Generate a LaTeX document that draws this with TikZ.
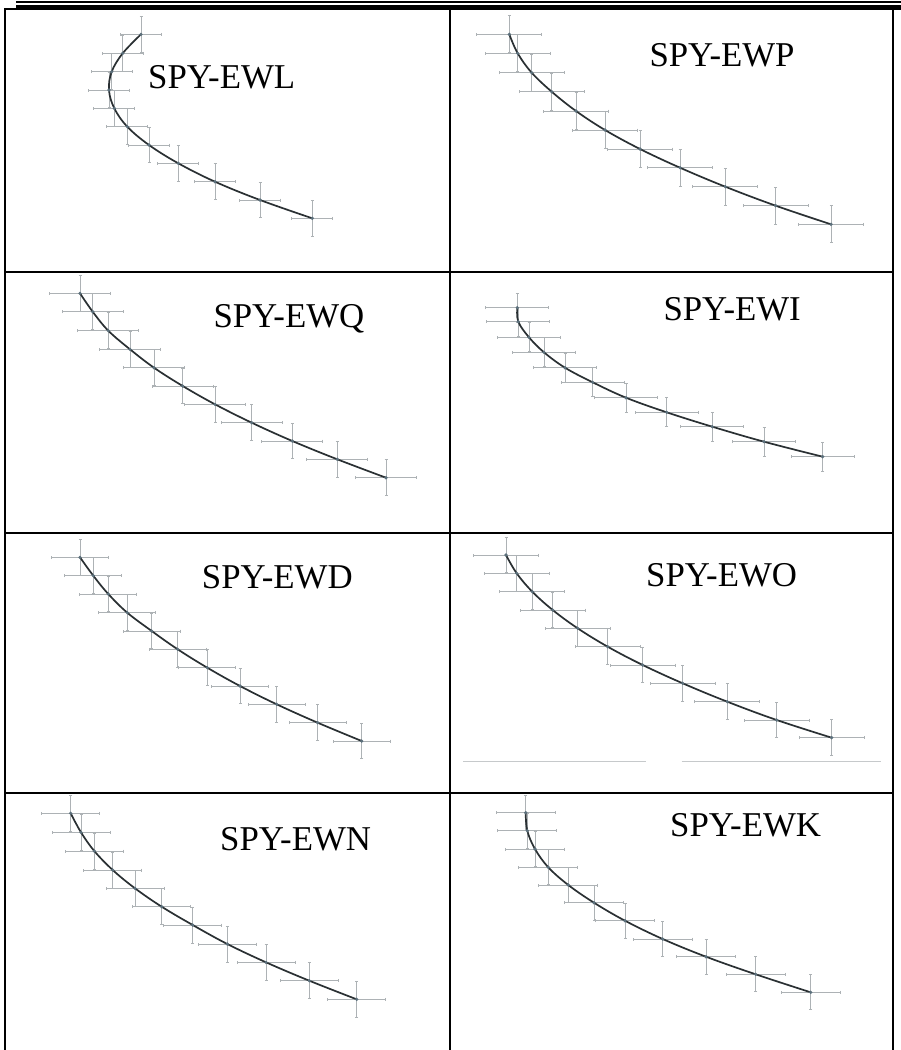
\documentclass[tikz,border=0pt]{standalone}
\usepackage{fontspec}
\setmainfont{Liberation Serif}
\usetikzlibrary{arrows.meta}
\definecolor{barcol}{HTML}{ADB2B5}
\definecolor{curvecol}{HTML}{2A3033}
\definecolor{dotcol}{HTML}{5C707C}
\tikzset{
  rule/.style={line width=2.3pt, black},
  errbar/.style={barcol, line width=0.85pt, {Bar[width=3pt]}-{Bar[width=3pt]}},
  curveline/.style={curvecol, line width=1.7pt, line cap=round},
  dotmark/.style={dotcol},
  celllabel/.style={anchor=base west, inner sep=0pt, font=\fontsize{34.8}{40}\selectfont},
  faintline/.style={barcol!70, line width=0.8pt}
}
\newcommand\errcurve[3]{%
  \gdef\mycoords{}%
  \foreach \px/\py in {#3}{%
    \draw[errbar] (\px-#1,\py) -- (\px+#1,\py);
    \draw[errbar] (\px,\py-#2) -- (\px,\py+#2);
    \xdef\mycoords{\mycoords (\px,\py)}%
  }
  \edef\mytemp{\noexpand\draw[curveline] plot[smooth, tension=0.6] coordinates {\mycoords};}%
  \mytemp
  \foreach \px/\py in {#3}{\fill[dotmark] (\px,\py) circle[radius=1.8pt];}
}
\begin{document}
\begin{tikzpicture}[x=1pt,y=-1pt]
\useasboundingbox (0,0) rectangle (901,1050);
\fill[white] (0,0) rectangle (901,1050);
% top double rule
\fill[black] (16,1.0) rectangle (901,2.7);
\fill[black] (16,4.7) rectangle (901,9.5);
% table grid
\draw[rule] (5,9) -- (893,9);
\draw[rule] (5,8) -- (5,1050);
\draw[rule] (893,8) -- (893,1050);
\draw[rule] (449.7,8) -- (449.7,1050);
\draw[rule] (5,272) -- (893,272);
\draw[rule] (5,533) -- (893,533);
\draw[rule] (5,793) -- (893,793);
% cell 1
\errcurve{21}{18.3}{141/34.3,122.7/53.3,111.7/71.7,109/90,114.3/108.3,127.3/126.7,149/145,178.3/163.3,215/181.7,260/200,312.3/218.3}
\node[celllabel] (l1) at (148,88.3) {SPY-EWL};
% cell 2
\errcurve{33}{19}{509.3/34.3,517.7/53.3,531.7/72.7,551.7/91.7,576/111,605/130,640/149,680/167.7,725.3/186.7,775.7/205.7,831/224.3}
\node[celllabel] (l2) at (649.3,66.7) {SPY-EWP};
% cell 3
\errcurve{31}{18.3}{80/293.3,92.7/311.7,108.3/330.7,130/349.3,154/367.7,182.7/386,215/404.3,251.7/422.7,292.3/441,337.3/459.3,386/477.7}
\node[celllabel] (l3) at (213.3,327.8) {SPY-EWQ};
% cell 4
\errcurve{32}{15}{517.3/307.7,518.3/321.7,529/337.3,544/352.3,565/367.7,592.7/382.3,626/397.7,666.7/412.3,712.3/426.7,764/441.7,822.7/456.7}
\node[celllabel] (l4) at (663.3,320.7) {SPY-EWI};
% cell 5
\errcurve{29}{18.3}{80/557.3,93.3/575.7,108.3/594,127.3/612.7,151.7/631,177.7/649.3,207.3/667.7,240/686,276.7/704.3,317.7/722.7,361.7/741}
\node[celllabel] (l5) at (201.7,588.3) {SPY-EWD};
% cell 6
\errcurve{33}{18.3}{506/555,516.7/573.3,532.3/591.7,552.7/610,577.7/628.3,607.7/646.7,642.7/665,682.7/683.3,727.3/701.7,776.7/720,831.7/737.7}
\node[celllabel] (l6) at (646,586.7) {SPY-EWO};
\draw[faintline] (463.3,761.7) -- (646,761.7);
\draw[faintline] (681.7,761.7) -- (881,761.7);
% cell 7
\errcurve{29.5}{18.5}{70.7/813.3,81/832.3,94.3/851,112.7/870,135/888.3,161.7/906.7,192.7/925,227.3/944,266/962.3,309.3/980.7,356.7/999.3}
\node[celllabel] (l7) at (220,850) {SPY-EWN};
% cell 8
\errcurve{30}{18}{525.7/812.7,527.3/830.7,535/849,548.3/867.3,568.3/885,594/902.7,625/920.7,662.7/939,706/956.7,755.7/974.3,810.7/992.3}
\node[celllabel] (l8) at (670,836.7) {SPY-EWK};
\end{tikzpicture}
\end{document}
